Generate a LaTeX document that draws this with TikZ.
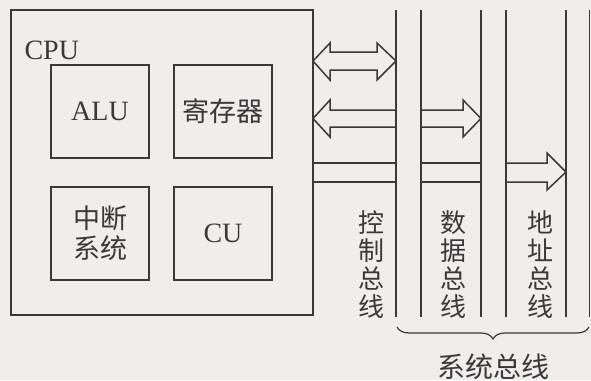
\documentclass[tikz,border=0pt]{standalone}
\usepackage{fontspec}
\setmainfont{Liberation Serif}
\newfontfamily\cjk{Noto Sans CJK SC}
\usetikzlibrary{decorations.pathreplacing}
\definecolor{paper}{RGB}{240,238,236}
\definecolor{ink}{RGB}{58,56,56}

\begin{document}
\begin{tikzpicture}[
  x=1pt,y=-1pt,
  every node/.style={font=\fontsize{28}{30}\selectfont,text=ink},
  line/.style={draw=ink,line width=1.5pt},
  unit/.style={line,minimum width=98pt,minimum height=93pt,inner sep=0pt,align=center},
  cjkunit/.style={unit,font=\fontsize{27}{30}\selectfont\cjk},
  vlab/.style={font=\fontsize{26}{28}\selectfont\cjk,align=center,inner sep=0pt},
  fat/.style={line,line join=miter}
]

\fill[paper] (0,0) rectangle (591,380);
\useasboundingbox (0,0) rectangle (591,380);

% CPU and its parts
\node[line,minimum width=302pt,minimum height=305pt,inner sep=0pt] (cpu) at (162,162.5) {};
\node[anchor=west] (cpulab) at (21,50) {CPU};

\node[unit] (alu) at (100,111.5) {ALU};
\node[cjkunit] (reg) at (223,111.5) {寄存器};
\node[cjkunit] (intr) at (100,233.5) {中断\\系统};
\node[unit] (cu) at (223,233.5) {CU};

% bus lines
\foreach \x in {396,421,481,506,566,589.5}
  \draw[line] (\x,10) -- (\x,317);

% arrows
\draw[fat] (330,52) -- (377,52) -- (377,43) -- (396,61) -- (377,80) -- (377,70)
  -- (330,70) -- (330,80) -- (313,61) -- (330,43) -- cycle;

\draw[fat] (396,110) -- (330,110) -- (330,100) -- (313,118.5) -- (330,137) -- (330,127) -- (396,127);
\draw[fat] (421,110) -- (463,110) -- (463,100) -- (481,118.5) -- (463,137) -- (463,127) -- (421,127);

\draw[line] (313,163) -- (396,163) (313,182) -- (396,182);
\draw[line] (421,163) -- (481,163) (421,182) -- (481,182);
\draw[fat] (506,163) -- (547,163) -- (547,153) -- (566,172) -- (547,190) -- (547,182) -- (506,182);

% bus names
\node[vlab] (ctrl) at (371,265) {控\\制\\总\\线};
\node[vlab] (data) at (453,265) {数\\据\\总\\线};
\node[vlab] (addr) at (540,265) {地\\址\\总\\线};

\draw[line,line width=1.2pt,decorate,decoration={brace,mirror,amplitude=12pt}]
  (397,327) -- (589,327);
\node[font=\fontsize{28}{30}\selectfont\cjk] (sys) at (493,367) {系统总线};

\end{tikzpicture}
\end{document}
